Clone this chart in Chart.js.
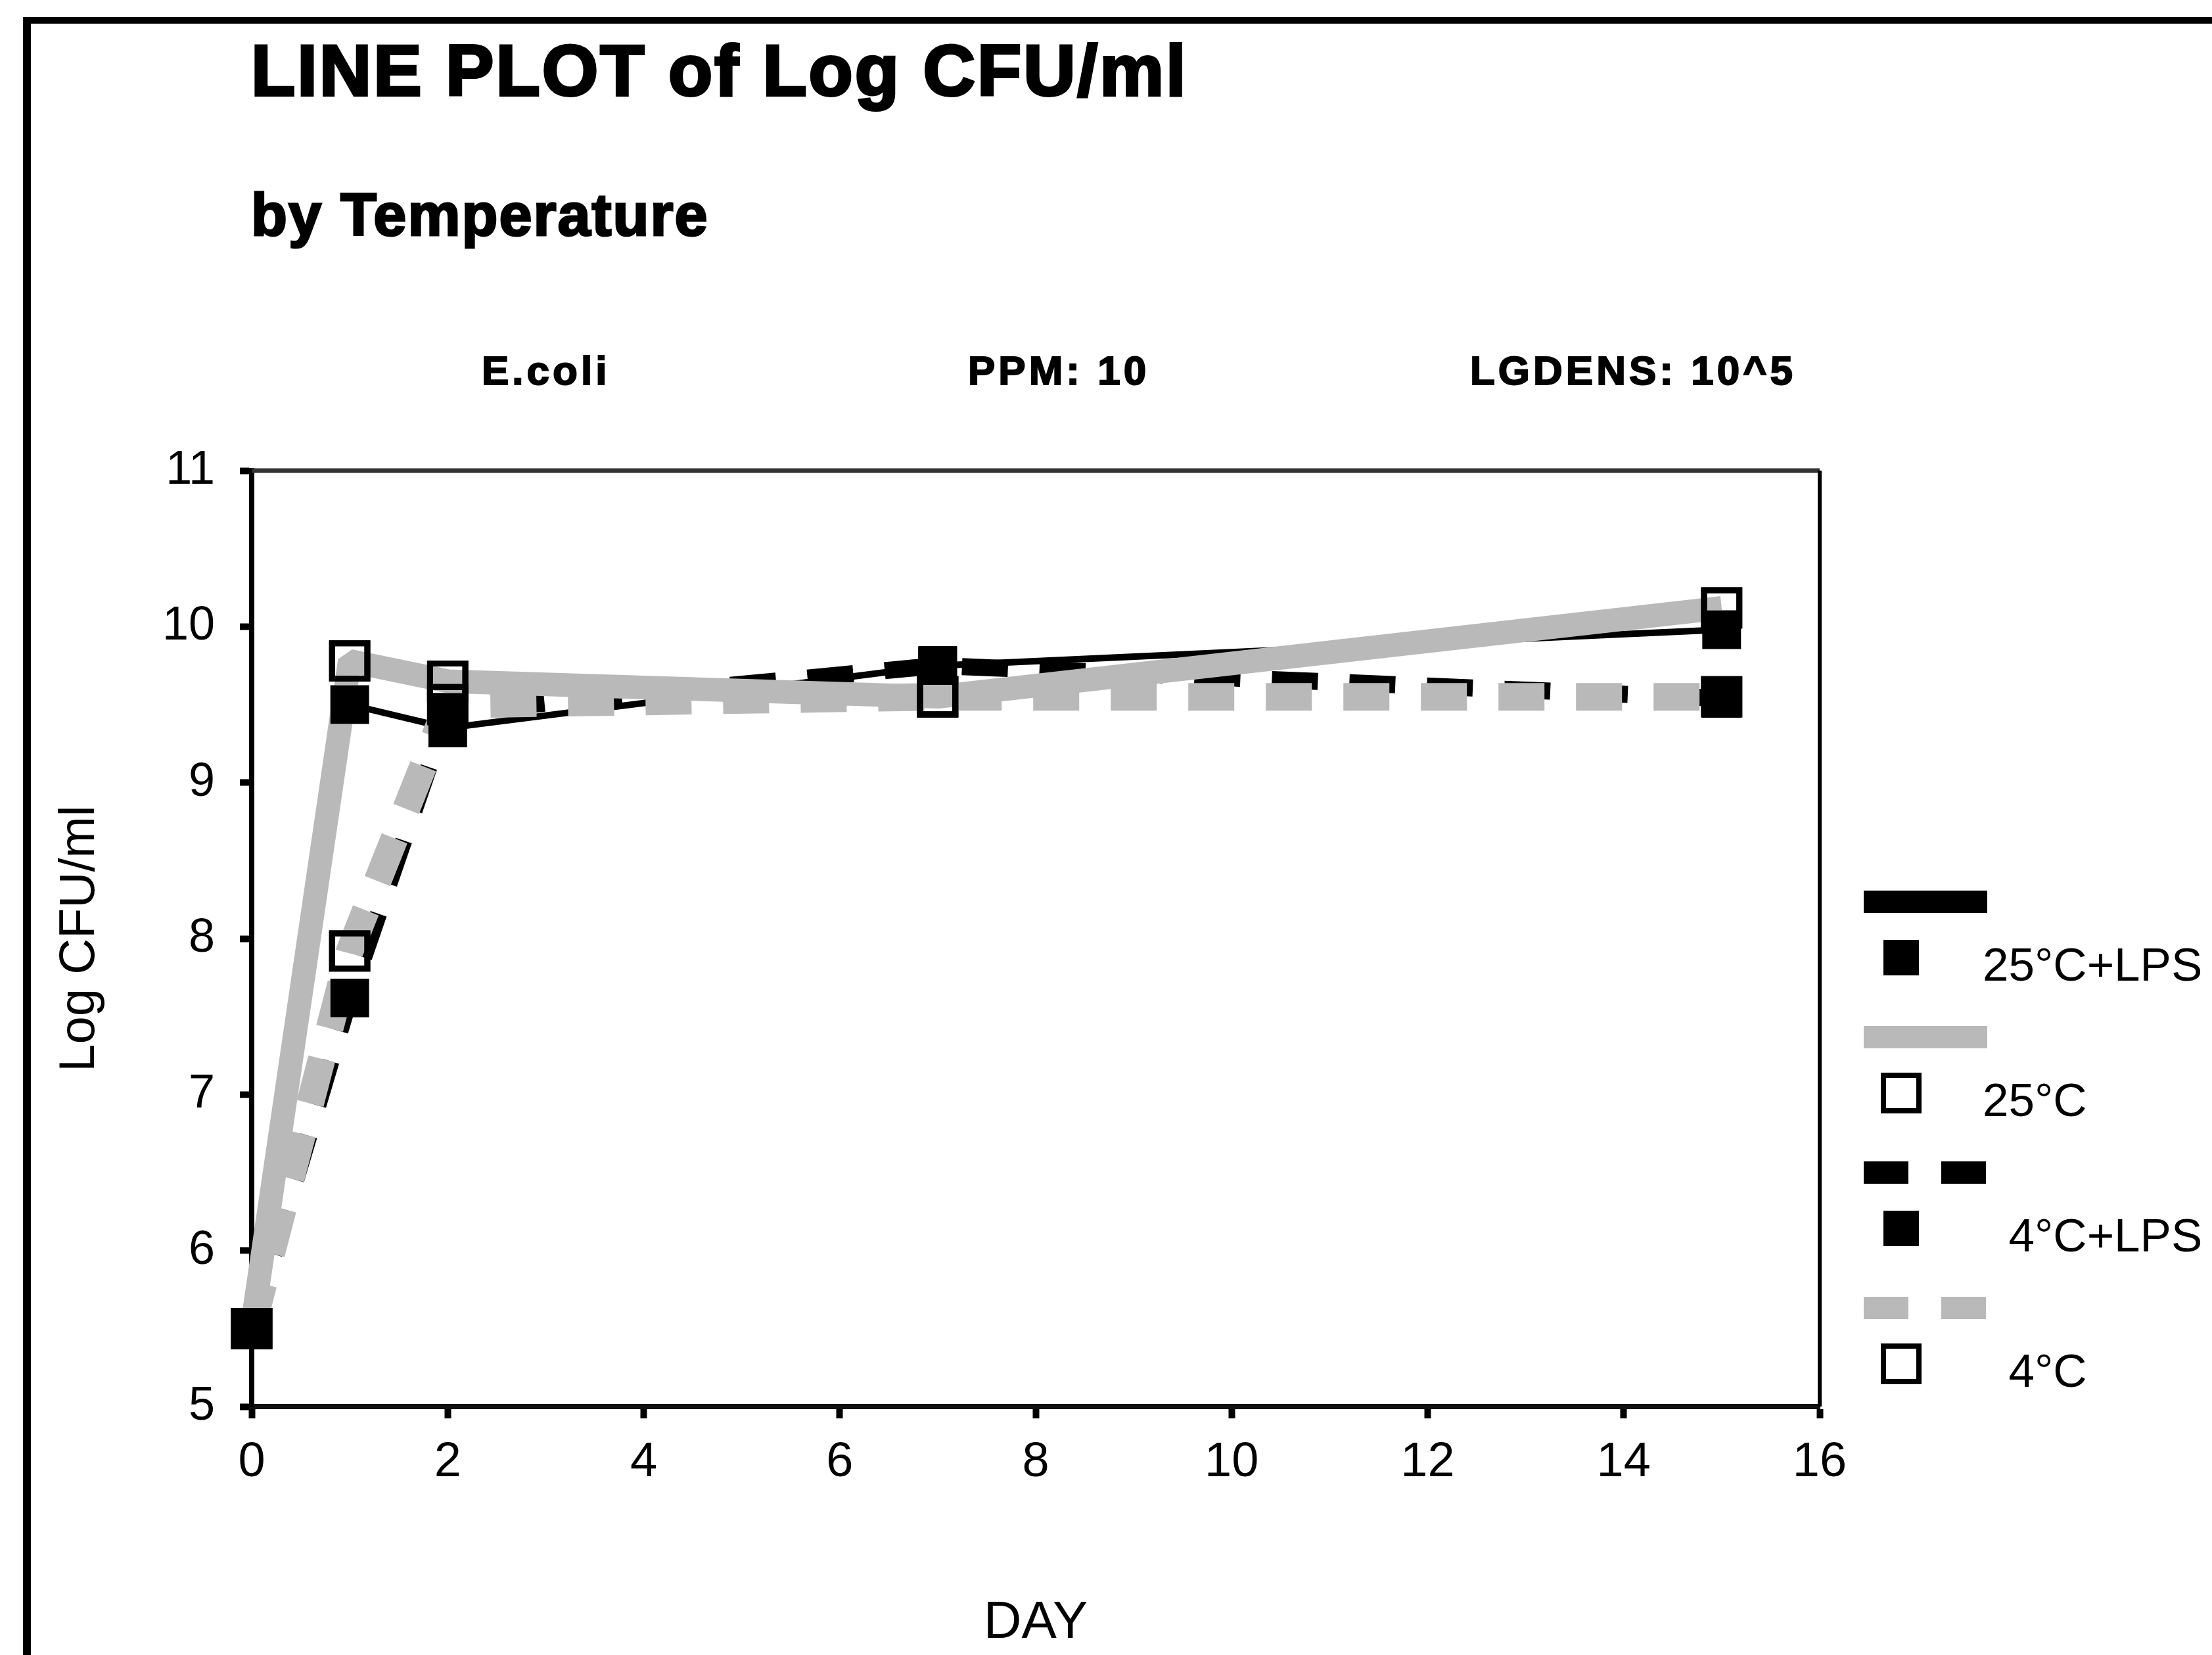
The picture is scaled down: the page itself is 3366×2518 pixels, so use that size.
<!DOCTYPE html>
<html>
<head>
<meta charset="utf-8">
<script src="https://cdn.jsdelivr.net/npm/chart.js@4.4.0/dist/chart.umd.min.js"></script>
<style>
  html, body { margin: 0; padding: 0; background: #fff; }
  #wrap { position: relative; width: 3366px; height: 2518px; overflow: hidden; background: #fff; }
  #chart { position: absolute; left: 0; top: 0; }
  .frame-top { position: absolute; left: 35px; top: 26px; width: 3331px; height: 10px; background: #000; }
  .frame-left { position: absolute; left: 35px; top: 26px; width: 12px; height: 2492px; background: #000; }
  .hdr { position: absolute; font-family: 'Liberation Sans', Arial, sans-serif; font-weight: bold; color: #000; line-height: 1; white-space: nowrap; }
  #title { left: 382px; top: 52px; font-size: 110px; letter-spacing: 3px; -webkit-text-stroke: 4px #000; }
  #subtitle { left: 382px; top: 282px; font-size: 90px; letter-spacing: 2px; -webkit-text-stroke: 3px #000; }
  .info { top: 533px; font-size: 62px; letter-spacing: 5px; -webkit-text-stroke: 2px #000; }
</style>
</head>
<body>
<div id="wrap">
  <canvas id="chart" width="3366" height="2518"></canvas>
  <div class="frame-top"></div>
  <div class="frame-left"></div>
  <div class="hdr" id="title">LINE PLOT of Log CFU/ml</div>
  <div class="hdr" id="subtitle">by Temperature</div>
  <div class="hdr info" style="left:733px">E.coli</div>
  <div class="hdr info" style="left:1473px">PPM: 10</div>
  <div class="hdr info" style="left:2237px">LGDENS: 10^5</div>
</div>
<script>
// values
const days = [0, 1, 2, 7, 15];
const lps25 = [5.5, 9.5, 9.35, 9.75, 9.98];
const temp25 = [5.5, 9.78, 9.65, 9.55, 10.12];
const lps4 = [5.5, 7.62, 9.45, 9.75, 9.54];
const temp4 = [5.5, 7.92, 9.5, 9.55, 9.55];
const seriesNames = ['25°C+LPS', '25°C', '4°C+LPS', '4°C'];
const xTicks = [0, 2, 4, 6, 8, 10, 12, 14, 16];
const yTicks = [5, 6, 7, 8, 9, 10, 11];

const GRAY = '#b9b9b9';
const tickFont = "'Liberation Sans Narrow', 'Liberation Sans', Arial, sans-serif";

function toPoints(vals) {
    return days.map((d, i) => ({ x: d, y: vals[i] }));
}

const common = {
    tension: 0,
    clip: false,
    borderCapStyle: 'butt',
    borderJoinStyle: 'bevel',
    pointStyle: 'rect',
    pointHoverRadius: 40,
    fill: false
};

const datasets = [
    Object.assign({}, common, {
        label: seriesNames[0], data: toPoints(lps25),
        borderColor: '#000', borderWidth: 10,
        pointRadius: 40, pointBackgroundColor: '#000', pointBorderColor: '#000', pointBorderWidth: 2,
        order: 4
    }),
    Object.assign({}, common, {
        label: seriesNames[1], data: toPoints(temp25),
        borderColor: GRAY, borderWidth: 36,
        pointRadius: 38, pointBackgroundColor: 'rgba(0,0,0,0)', pointBorderColor: '#000', pointBorderWidth: 9,
        order: 2
    }),
    Object.assign({}, common, {
        label: seriesNames[2], data: toPoints(lps4),
        borderColor: '#000', borderWidth: 26, borderDash: [70, 48],
        pointRadius: 40, pointBackgroundColor: '#000', pointBorderColor: '#000', pointBorderWidth: 2,
        order: 3
    }),
    Object.assign({}, common, {
        label: seriesNames[3], data: toPoints(temp4),
        borderColor: GRAY, borderWidth: 42, borderDash: [70, 48],
        pointRadius: 38, pointBackgroundColor: 'rgba(0,0,0,0)', pointBorderColor: '#000', pointBorderWidth: 9,
        order: 1
    })
];

// top and right edges of the plot box
const plotBox = {
    id: 'plotBox',
    beforeDatasetsDraw(chart) {
        const { ctx, chartArea: a } = chart;
        ctx.save();
        ctx.strokeStyle = '#333';
        ctx.lineWidth = 7;
        ctx.beginPath();
        ctx.moveTo(a.left, a.top);
        ctx.lineTo(a.right, a.top);
        ctx.stroke();
        ctx.strokeStyle = '#000';
        ctx.lineWidth = 6;
        ctx.beginPath();
        ctx.moveTo(a.right, a.top);
        ctx.lineTo(a.right, a.bottom);
        ctx.stroke();
        ctx.restore();
    }
};

// markers sit above every line, as in the original
const markersOnTop = {
    id: 'markersOnTop',
    afterDatasetsDraw(chart) {
        const ctx = chart.ctx;
        chart.data.datasets.forEach((ds, i) => {
            chart.getDatasetMeta(i).data.forEach(pt => pt.draw(ctx));
        });
    }
};

// legend on the right: line sample, marker below it, label beside marker
const sideLegend = {
    id: 'sideLegend',
    afterDraw(chart) {
        const ctx = chart.ctx;
        ctx.save();
        ctx.font = "71px 'Liberation Sans', Arial, sans-serif";
        ctx.textBaseline = 'middle';
        ctx.textAlign = 'left';
        const degX = 3017 + ctx.measureText('25').width;
        chart.data.datasets.forEach((ds, i) => {
            const y = 1372 + i * 206;
            ctx.beginPath();
            ctx.setLineDash(ds.borderDash ? [68, 50] : []);
            ctx.lineCap = 'butt';
            ctx.lineWidth = 34;
            ctx.strokeStyle = ds.borderColor;
            ctx.moveTo(2836, y);
            ctx.lineTo(3024, y);
            ctx.stroke();
            ctx.setLineDash([]);

            const s = 54, my = y + 85;
            if (ds.pointBackgroundColor === '#000') {
                ctx.fillStyle = '#000';
                ctx.fillRect(2893 - s / 2, my - s / 2, s, s);
            } else {
                ctx.strokeStyle = '#000';
                ctx.lineWidth = 8;
                ctx.strokeRect(2893 - s / 2, my - s / 2, s, s);
            }
            const lead = ctx.measureText(ds.label.split('°')[0]).width;
            ctx.fillStyle = '#000';
            ctx.fillText(ds.label, degX - lead, y + 100);
        });
        ctx.restore();
    }
};

new Chart(document.getElementById('chart'), {
    type: 'line',
    data: { datasets: datasets },
    options: {
        responsive: false,
        devicePixelRatio: 1,
        animation: false,
        events: [],
        layout: { padding: { left: 0, top: 716, right: 597, bottom: 0 } },
        plugins: {
            legend: { display: false },
            tooltip: { enabled: false },
            title: { display: false }
        },
        scales: {
            x: {
                type: 'linear',
                min: 0,
                max: 16,
                afterFit(scale) { scale.height = 378; },
                afterBuildTicks(scale) { scale.ticks = xTicks.map(v => ({ value: v })); },
                grid: { drawOnChartArea: false, drawTicks: true, tickLength: 18, tickWidth: 10, tickColor: '#000' },
                border: { display: true, color: '#111', width: 8 },
                ticks: { color: '#000', padding: 23, maxRotation: 0, font: { family: tickFont, size: 74 } },
                title: {
                    display: true, text: 'DAY', color: '#000',
                    font: { family: "'Liberation Sans', Arial, sans-serif", size: 80 },
                    padding: { top: 0, bottom: 0 }
                }
            },
            y: {
                type: 'linear',
                min: 5,
                max: 11,
                afterFit(scale) { scale.width = 383; },
                afterBuildTicks(scale) { scale.ticks = yTicks.map(v => ({ value: v })); },
                grid: { drawOnChartArea: false, drawTicks: true, tickLength: 18, tickWidth: 10, tickColor: '#000' },
                border: { display: true, color: '#000', width: 8 },
                ticks: { color: '#000', padding: 38, font: { family: tickFont, size: 72 } },
                title: {
                    display: true, text: 'Log CFU/ml', color: '#000',
                    font: { family: "'Liberation Sans', Arial, sans-serif", size: 76 },
                    padding: { top: 76, bottom: 0 }
                }
            }
        }
    },
    plugins: [plotBox, markersOnTop, sideLegend]
});
</script>
</body>
</html>
